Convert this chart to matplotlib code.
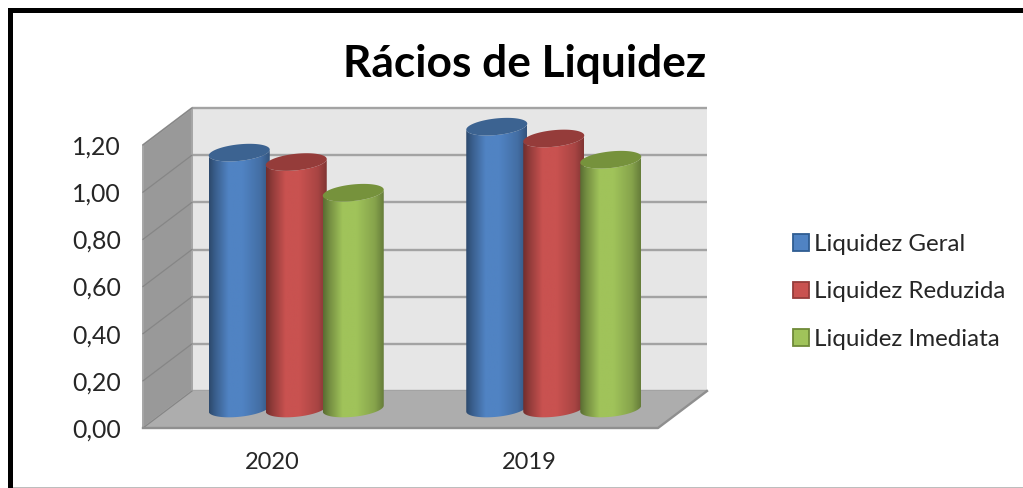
import numpy as np
import matplotlib
matplotlib.use("Agg")
import matplotlib.pyplot as plt
from matplotlib.patches import Polygon, Rectangle, Patch
from matplotlib.colors import to_rgb

years = ["2020", "2019"]
series = ["Liquidez Geral", "Liquidez Reduzida", "Liquidez Imediata"]
geral = [1.085, 1.195]
reduzida = [1.045, 1.145]
imediata = [0.915, 1.055]
y_ticks = [0.0, 0.2, 0.4, 0.6, 0.8, 1.0, 1.2]
y_labels = ["0,00", "0,20", "0,40", "0,60", "0,80", "1,00", "1,20"]

body_colors = ["#5083c3", "#c95250", "#a0c35a"]
top_colors = ["#3c6391", "#953c3a", "#76923c"]
legend_edges = ["#2f5d92", "#953c3a", "#6f8a38"]

W, H = 1023, 488
plt.rcParams["font.family"] = ["Lato", "DejaVu Sans"]
fig = plt.figure(figsize=(W / 100, H / 100), dpi=100, facecolor="white")

# front plane of the fake 3d box, in pixels
left, right, top, bottom = 143, 658, 145, 428
ax = fig.add_axes([left / W, 1 - bottom / H, (right - left) / W, (bottom - top) / H])
ax.patch.set_visible(False)
for s in ax.spines.values():
    s.set_visible(False)

px_x = (right - left) / 2      # pixels per category
px_y = (bottom - top) / 1.2    # pixels per unit
dx = 49 / px_x                 # depth of the box
dy = 37 / px_y
x0, x1 = -0.5, 1.5
ymax = y_ticks[-1]

ax.add_patch(Polygon([(x0 + dx, dy), (x1 + dx, dy), (x1 + dx, ymax + dy), (x0 + dx, ymax + dy)],
                     fc="#e6e6e6", ec="none", clip_on=False, zorder=1))
ax.add_patch(Polygon([(x0, 0), (x0 + dx, dy), (x0 + dx, ymax + dy), (x0, ymax)],
                     fc="#999999", ec="#a6a6a6", lw=1.4, clip_on=False, zorder=2))
ax.add_patch(Polygon([(x0, 0), (x1, 0), (x1 + dx, dy), (x0 + dx, dy)],
                     fc="#adadad", ec="none", clip_on=False, zorder=2))
for v in y_ticks:
    ax.plot([x0 + dx, x1 + dx], [v + dy, v + dy], color="#a3a3a3", lw=1.7, clip_on=False, zorder=1.5,
            solid_capstyle="butt")
    ax.plot([x0, x0 + dx], [v, v + dy], color="#868686", lw=0.9, clip_on=False, zorder=2.5)
ax.plot([x0, x1, x1 + dx], [0, 0, dy], color="#8f8f8f", lw=1.7, clip_on=False, zorder=2.5)

# cylinders
half_w = 30.5 / px_x
ell_b = 8.3 / px_y
ell_s = 3.0 / px_y
step = 57 / px_x
stops = [0, 0.1, 0.32, 0.55, 0.85, 1]
shade = [0.56, 0.72, 1.0, 1.0, 0.84, 0.64]


def cylinder(cx, value, color, top_color, z):
    base = dy / 2 + 1 / px_y
    t = np.linspace(np.pi, 2 * np.pi, 60)
    xs = cx + half_w * np.cos(t)
    low = ell_b * np.sin(t) + ell_s * np.cos(t)
    body = np.vstack([
        np.column_stack([xs, base + value + low]),
        np.column_stack([xs[::-1], base + low[::-1]]),
    ])
    poly = Polygon(body, transform=ax.transData, fc="none", ec="none")
    u = np.linspace(0, 1, 128)
    grad = np.outer(np.interp(u, stops, shade), to_rgb(color))[None, :, :]
    im = ax.imshow(grad, extent=(cx - half_w, cx + half_w, base - 2 * ell_b, base + value + 2 * ell_b),
                   aspect="auto", interpolation="bilinear", zorder=z)
    im.set_clip_box(fig.bbox)
    im.set_clip_path(poly)
    t2 = np.linspace(0, 2 * np.pi, 120)
    ax.fill(cx + half_w * np.cos(t2), base + value + ell_b * np.sin(t2) + ell_s * np.cos(t2),
            color=top_color, lw=0, clip_on=False, zorder=z + 0.1)


z = 3
for i in range(len(years)):
    for j, vals in enumerate([geral, reduzida, imediata]):
        cylinder(i + (j - 1) * step + dx / 2, vals[i], body_colors[j], top_colors[j], z)
        z += 1

ax.set_xlim(x0, x1)
ax.set_ylim(0, ymax)
ax.set_xticks([0, 1], years)
ax.set_yticks(y_ticks, y_labels)
ax.tick_params(axis="x", length=0, pad=17, labelsize=17, labelcolor="#262626")
ax.tick_params(axis="y", length=0, pad=16, labelsize=17.8, labelcolor="#262626")

fig.text(524.5 / W, 1 - 64 / H, "Rácios de Liquidez", fontsize=31.9, fontweight="bold",
         ha="center", va="center", color="black")

handles = [Patch(fc=c, ec=e, lw=1.3) for c, e in zip(body_colors, legend_edges)]
fig.legend(handles, series, loc="center left", bbox_to_anchor=(771 / W, 1 - 292 / H), frameon=False,
           fontsize=17.4, labelspacing=1.1, handlelength=0.67, handleheight=0.67, handletextpad=0.22,
           labelcolor="#262626")

# black frame round the picture, open on the right
fig.add_artist(Rectangle((8 / W, 1 - 13 / H), 1, 5 / H, transform=fig.transFigure, fc="black", ec="none"))
fig.add_artist(Rectangle((8 / W, 0), 5 / W, 1 - 8 / H, transform=fig.transFigure, fc="black", ec="none"))
fig.add_artist(Rectangle((13 / W, 0), 1, 1 / H, transform=fig.transFigure, fc="#bdbdbd", ec="none"))

fig.savefig("out.png", dpi=100)
